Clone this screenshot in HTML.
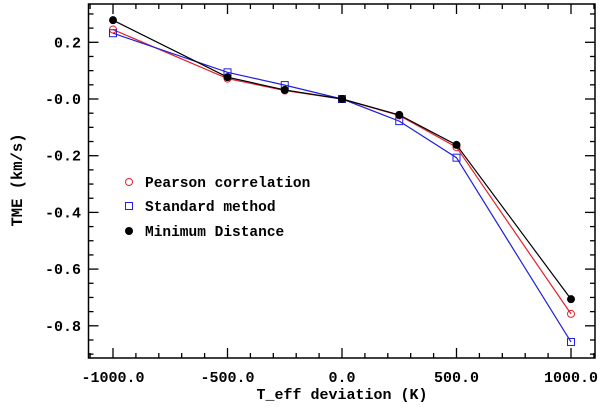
<!DOCTYPE html>
<html><head><meta charset="utf-8"><style>
body{margin:0;background:#fff}
svg text{font-family:"Liberation Mono",monospace;font-weight:bold;fill:#000}
</style></head><body>
<svg id="chart" width="600" height="405" xmlns="http://www.w3.org/2000/svg"></svg>
<script>
const xValues=[-1000,-500,-250,0,250,500,1000];
const pearson=[0.245,0.072,0.03,0,-0.058,-0.17,-0.758];
const standard=[0.232,0.094,0.049,0,-0.078,-0.207,-0.857];
const minDist=[0.278,0.077,0.032,0,-0.056,-0.162,-0.706];
const xTicks=[-1000,-500,0,500,1000];
const xTickLabels=["-1000.0","-500.0","0.0","500.0","1000.0"];
const yTicks=[0.2,0,-0.2,-0.4,-0.6,-0.8];
const yTickLabels=["0.2","-0.0","-0.2","-0.4","-0.6","-0.8"];

const L=88.5,R=595,T=4,B=358;
const sx=v=>342+v*0.229;
const sy=v=>99-v*283.5;
const svg=document.getElementById('chart');
const NS="http://www.w3.org/2000/svg";
function mk(tag,attrs,parent){const e=document.createElementNS(NS,tag);for(const k in attrs)e.setAttribute(k,attrs[k]);(parent||svg).appendChild(e);return e;}

const frame=mk('rect',{x:L,y:T,width:R-L,height:B-T,fill:'none',stroke:'#000','stroke-width':1.5});



for(let v=-1100;v<=1100;v+=100){
  const x=sx(v);if(x<L||x>R)continue;
  const len=(v%500===0)?10:5;
  const t1=mk('line',{x1:x,y1:B,x2:x,y2:B-len,stroke:'#000','stroke-width':1.3});
  
  
  const t2=mk('line',{x1:x,y1:T,x2:x,y2:T+len,stroke:'#000','stroke-width':1.3});
  
  
}
for(let i=-18;i<=6;i++){
  const v=i*0.05;const y=sy(v);if(y<T||y>B)continue;
  const len=(i%4===0)?10:5;
  const t1=mk('line',{x1:L,y1:y,x2:L+len,y2:y,stroke:'#000','stroke-width':1.3});
  
  
  const t2=mk('line',{x1:R,y1:y,x2:R-len,y2:y,stroke:'#000','stroke-width':1.3});
  
  
}
xTicks.forEach((v,i)=>{
  const t=mk('text',{x:sx(v),y:382,'text-anchor':'middle','font-size':15});
  t.textContent=xTickLabels[i];
  
  
});
yTicks.forEach((v,i)=>{
  const t=mk('text',{x:81,y:sy(v)+5,'text-anchor':'end','font-size':15});
  t.textContent=yTickLabels[i];
  
  
});
const xt=mk('text',{x:342,y:399,'text-anchor':'middle','font-size':15});
xt.textContent='T_eff deviation (K)';


const yt=mk('text',{x:0,y:0,'text-anchor':'middle','font-size':15.5,transform:'translate(22,180) rotate(-90)'});
yt.textContent='TME (km/s)';



function series(vals,color,marker,name){
  const g=mk('g',{});
  
  
  const pts=vals.map((v,i)=>sx(xValues[i])+','+sy(v)).join(' ');
  const pl=mk('polyline',{points:pts,fill:'none',stroke:color,'stroke-width':1.2},g);
  
  
  vals.forEach((v,i)=>{
    const m=drawMarker(sx(xValues[i]),sy(v),color,marker,g);
    
    
  });
}
function drawMarker(x,y,color,marker,g){
  if(marker==='circle')return mk('circle',{cx:x,cy:y,r:3.5,fill:'none',stroke:color,'stroke-width':1},g);
  if(marker==='square')return mk('rect',{x:x-3.5,y:y-3.5,width:7,height:7,fill:'none',stroke:color,'stroke-width':1},g);
  return mk('circle',{cx:x,cy:y,r:4,fill:color},g);
}
series(pearson,'#e8202a','circle','pearson');
series(standard,'#2020e0','square','standard');
series(minDist,'#000','dot','min-distance');

const legend=[['Pearson correlation','#e8202a','circle',182],['Standard method','#2020e0','square',206],['Minimum Distance','#000','dot',231]];
legend.forEach(l=>{
  const g=mk('g',{});
  
  
  drawMarker(129,l[3],l[1],l[2],g);
  const t=mk('text',{x:145,y:l[3]+5,'font-size':14.5},g);
  t.textContent=l[0];
});
</script>
</body></html>
